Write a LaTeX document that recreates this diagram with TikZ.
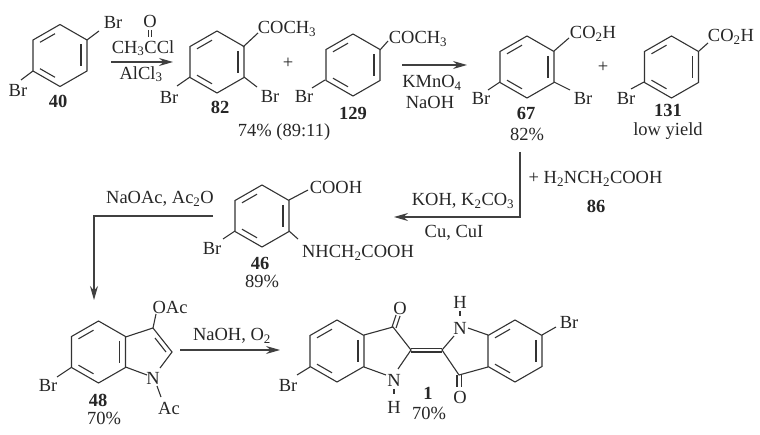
\documentclass[tikz,border=0pt]{standalone}
\usepackage{fontspec}
\setmainfont{Liberation Serif}
\usetikzlibrary{arrows.meta}
\tikzset{
  chem/.style={inner sep=0pt, font=\fontsize{18.5}{20}\selectfont, text=black!85},
  cmpd/.style={inner sep=0pt, font=\fontsize{18.5}{20}\selectfont\bfseries, text=black!85},
  bond/.style={line width=1.1pt, draw=black!80},
  rxn/.style={line width=1.2pt, draw=black!75, -{Stealth[length=14pt,width=8pt]}}
}
\newcommand{\brring}[2]{
  \begin{scope}[shift={(#1,#2)}]
    \draw[bond] (0,-31) -- (27,-15.5) -- (27,15.5) -- (0,31) -- (-27,15.5) -- (-27,-15.5) -- cycle;
    \draw[bond] (-20,-13.2) -- (-5,-21.8);
    \draw[bond] (21,-11) -- (21,11);
    \draw[bond] (-20,13.2) -- (-5,21.8);
  \end{scope}
}
\newcommand{\low}[1]{\textsubscript{#1}}

\begin{document}
\begin{tikzpicture}[x=1pt, y=-1pt]
\useasboundingbox (0,0) rectangle (760,435);

% 40
\brring{60}{55.5}
\draw[bond] (87,40) -- (99,31);
\draw[bond] (33,71) -- (21,80);
\node[chem] (br40a) at (113,22) {Br};
\node[chem] (br40b) at (18,90) {Br};
\node[cmpd] (n40) at (58,101) {40};

% first arrow
\node[chem] (oxo) at (150,21) {O};
\draw[bond] (148.5,30) -- (148.5,37);
\draw[bond] (151.5,30) -- (151.5,37);
\node[chem] (acyl) at (143,48) {CH\low{3}CCl};
\coordinate (a1s) at (111,62);
\coordinate (a1e) at (173,62);
\draw[rxn] (a1s) -- (a1e);
\node[chem] (alcl) at (141,74) {AlCl\low{3}};

% 82
\brring{217}{62}
\draw[bond] (243,47) -- (258,33);
\draw[bond] (190,77) -- (177,86);
\draw[bond] (244,77) -- (257,87);
\node[chem] (ac82) at (287,29) {COCH\low{3}};
\node[chem] (br82a) at (169,97) {Br};
\node[chem] (br82b) at (270,96) {Br};
\node[cmpd] (n82) at (220,107) {82};
\node[chem] (plusa) at (288,63) {+};
\node[chem] (yield82) at (284,132) {74\% (89:11)};

% 129
\brring{353}{65}
\draw[bond] (380,50) -- (388,41);
\draw[bond] (325,80) -- (312,88);
\node[chem] (ac129) at (418,39) {COCH\low{3}};
\node[chem] (br129) at (304,96) {Br};
\node[cmpd] (n129) at (353,113) {129};

% second arrow
\coordinate (a2s) at (402,65);
\coordinate (a2e) at (467,65);
\draw[rxn] (a2s) -- (a2e);
\node[chem] (kmno) at (432,83) {KMnO\low{4}};
\node[chem] (naoh) at (430,102) {NaOH};

% 67
\brring{527}{67}
\draw[bond] (554,51) -- (569,38);
\draw[bond] (500,82) -- (488,90);
\draw[bond] (554,82) -- (570,90);
\node[chem] (ac67) at (593,34) {CO\low{2}H};
\node[chem] (br67a) at (481,98) {Br};
\node[chem] (br67b) at (583,98) {Br};
\node[cmpd] (n67) at (526,113) {67};
\node[chem] (yield67) at (527,134) {82\%};
\node[chem] (plusb) at (603,67) {+};

% 131
\brring{671.5}{67}
\draw[bond] (699,51) -- (708,43);
\draw[bond] (644,82) -- (631,89);
\node[chem] (ac131) at (731,37) {CO\low{2}H};
\node[chem] (br131) at (626,98) {Br};
\node[cmpd] (n131) at (668,110.5) {131};
\node[chem] (low131) at (668,131) {low yield};

% third arrow
\coordinate (a3s) at (520,152);
\coordinate (a3m) at (520,217);
\coordinate (a3e) at (394,217);
\draw[rxn] (a3s) -- (a3m) -- (a3e);
\node[chem] (glycine) at (595.5,179) {+ H\low{2}NCH\low{2}COOH};
\node[cmpd] (n86) at (596,206) {86};
\node[chem] (koh) at (463,201) {KOH, K\low{2}CO\low{3}};
\node[chem] (cui) at (454,233) {Cu, CuI};

% 46
\brring{262}{216}
\draw[bond] (289,200) -- (308,190);
\draw[bond] (289,231) -- (298,239);
\draw[bond] (235,231) -- (223,239);
\node[chem] (ac46) at (336,187) {COOH};
\node[chem] (nh46) at (358,253) {NHCH\low{2}COOH};
\node[chem] (br46) at (212,248) {Br};
\node[cmpd] (n46) at (260,263) {46};
\node[chem] (yield46) at (262,281) {89\%};

% fourth arrow
\coordinate (a4s) at (213,216);
\coordinate (a4m) at (94,216);
\coordinate (a4e) at (94,300);
\draw[rxn] (a4s) -- (a4m) -- (a4e);
\node[chem] (naoac) at (160,199) {NaOAc, Ac\low{2}O};

% 48
\brring{98.5}{352}
\draw[bond] (125.5,337) -- (153,328) -- (172,352) -- (160,368);
\draw[bond] (155,338) -- (166,352);
\draw[bond] (125.5,367) -- (147,375);
\draw[bond] (153,328) -- (156,314);
\draw[bond] (157,386) -- (161,397);
\draw[bond] (72,367) -- (57,377);
\node[chem] (oac48) at (170,307) {OAc};
\node[chem] (n48n) at (153,378) {N};
\node[chem] (ac48) at (169,408) {Ac};
\node[chem] (br48) at (48,385) {Br};
\node[cmpd] (n48) at (98,400) {48};
\node[chem] (yield48) at (104,418) {70\%};

% fifth arrow
\coordinate (a5s) at (180,350);
\coordinate (a5e) at (280,350);
\draw[rxn] (a5s) -- (a5e);
\node[chem] (naoho) at (232,336) {NaOH, O\low{2}};

% 1
\brring{337}{351}
\brring{515}{351}
\draw[bond] (364,335) -- (393,327) -- (411,350) -- (398,369);
\draw[bond] (364,367) -- (386,375);
\draw[bond] (392,327) -- (396,315);
\draw[bond] (396,328) -- (400,316);
\draw[bond] (411,348.5) -- (442,348.5);
\draw[bond] (411,352) -- (442,352);
\draw[bond] (454,336) -- (442,350) -- (459,375) -- (488,367);
\draw[bond] (468,328) -- (488,335);
\draw[bond] (457,375) -- (457,387);
\draw[bond] (461.5,375) -- (461.5,387);
\draw[bond] (460,311) -- (460,316);
\draw[bond] (394,389) -- (394,394);
\draw[bond] (310,367) -- (297,375);
\draw[bond] (542,335) -- (556,327);
\node[chem] (o1a) at (400,308) {O};
\node[chem] (nh1a) at (394,380) {N};
\node[chem] (h1a) at (394,407) {H};
\node[chem] (h1b) at (460,302) {H};
\node[chem] (nh1b) at (460,328) {N};
\node[chem] (o1b) at (460,397) {O};
\node[chem] (br1a) at (288,385) {Br};
\node[chem] (br1b) at (569,322) {Br};
\node[cmpd] (n1) at (428,393) {1};
\node[chem] (yield1) at (429,413) {70\%};
\end{tikzpicture}
\end{document}
